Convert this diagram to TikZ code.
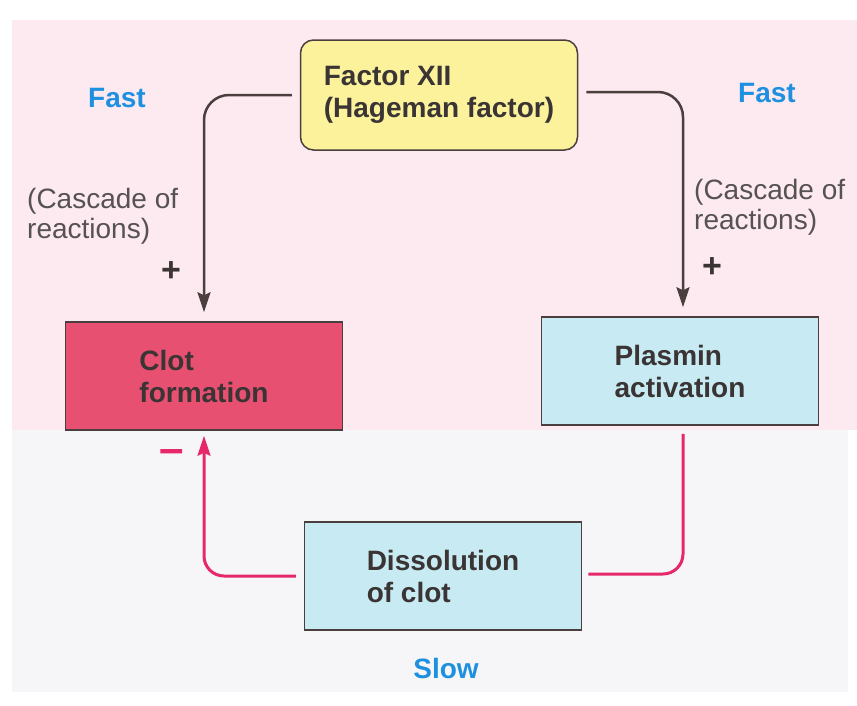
\documentclass[tikz,border=0pt]{standalone}
\usepackage{fontspec}
\setmainfont{Liberation Sans}
\usetikzlibrary{arrows.meta,positioning}
\definecolor{bgpink}{RGB}{252,234,240}
\definecolor{bggrey}{RGB}{246,246,248}
\definecolor{fxyellow}{RGB}{251,242,155}
\definecolor{clotred}{RGB}{232,80,114}
\definecolor{plblue}{RGB}{200,234,243}
\definecolor{txtblue}{RGB}{30,144,224}
\definecolor{txtdark}{RGB}{58,52,52}
\definecolor{linedark}{RGB}{74,62,62}
\definecolor{linepink}{RGB}{230,40,105}
\tikzset{
  box/.style   = {draw=linedark, line width=1.5pt, align=left, inner sep=0pt,
                  minimum width=277pt, minimum height=108pt,
                  font=\fontsize{28}{32}\selectfont\bfseries, text=txtdark},
  boxy/.style  = {box, fill=fxyellow, rounded corners=13pt, minimum height=110pt},
  boxr/.style  = {box, fill=clotred},
  boxb/.style  = {box, fill=plblue},
  lab/.style   = {font=\fontsize{28}{30}\selectfont, text=txtdark!85, align=left, inner sep=0pt},
  speed/.style = {font=\fontsize{28}{30}\selectfont\bfseries, text=txtblue, inner sep=0pt},
  sign/.style  = {font=\fontsize{34}{34}\selectfont\bfseries, inner sep=0pt},
  arr/.style   = {-{Stealth[length=20pt,width=13pt,inset=3pt]}, draw=linedark,
                  line width=2.5pt, rounded corners=25pt},
  parr/.style  = {draw=linepink, line width=3pt, rounded corners=20pt},
}
\begin{document}
\begin{tikzpicture}[x=1pt, y=-1pt]
  \useasboundingbox (0,0) rectangle (857,705);
  % backdrop: fast half and slow half
  \fill[bgpink] (12,20) rectangle (857,430);
  \fill[bggrey] (12,430) rectangle (848,692);
  \node[boxy] (fxii) at (439,95) {Factor XII\\(Hageman factor)};
  \node[boxr] (clot) at (204,376) {Clot\\formation};
  \node[boxb] (plas) at (680,371) {Plasmin\\activation};
  \node[boxb] (diss) at (443,576) {Dissolution\\of clot};
  \node[speed] (fastl) at (117,98) {Fast};
  \node[speed] (fastr) at (767,93) {Fast};
  \node[speed] (slow) at (446,668) {Slow};
  \node[lab, anchor=north west] (casl) at (27,188) {(Cascade of\\reactions)};
  \node[lab, anchor=north west] (casr) at (694,179) {(Cascade of\\reactions)};
  \node[sign, text=txtdark] (plusl) at (171,272) {+};
  \node[sign, text=txtdark] (plusr) at (712,268) {+};
  \node[sign, text=linepink, font=\fontsize{44}{44}\selectfont\bfseries] (minus) at (172,456) {–};
  \draw[arr, shorten <=8pt, shorten >=9pt] (fxii.west) -| (clot.north);
  \draw[arr, shorten <=8pt, shorten >=9pt] ([yshift=3pt]fxii.east) -| ([xshift=3pt]plas.north);
  \draw[parr, shorten <=8pt, shorten >=6pt] ([xshift=3pt]plas.south) |- ([yshift=2pt]diss.east);
  \draw[parr, -{Stealth[length=20pt,width=13pt,inset=3pt]}, shorten <=8pt, shorten >=5pt]
    (diss.west) -| (clot.south);
\end{tikzpicture}
\end{document}
